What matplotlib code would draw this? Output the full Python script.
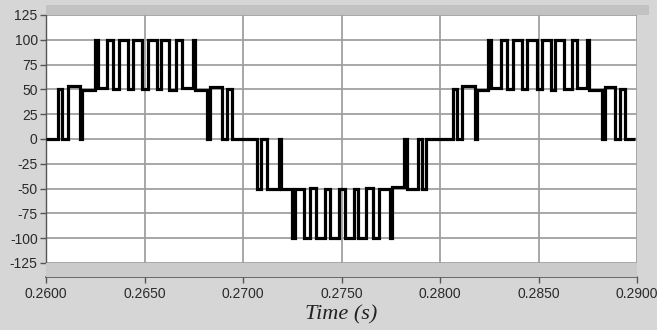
import matplotlib
matplotlib.use("Agg")
import matplotlib.pyplot as plt
from matplotlib.patches import Rectangle
import numpy as np

plt.rcParams['axes.unicode_minus'] = False

# switching instants (s) and the level that starts at each instant
t_pos1 = [0.26000, 0.26061, 0.26081, 0.26112, 0.26173, 0.26183,
          0.26249, 0.26264, 0.26310, 0.26340, 0.26371, 0.26416, 0.26442, 0.26487,
          0.26518, 0.26563, 0.26584, 0.26624, 0.26660, 0.26690, 0.26746, 0.26756,
          0.26817, 0.26832, 0.26893, 0.26919, 0.26944]
v_pos1 = [0, 50, 0, 53, 0, 49,
          100, 51, 100, 50, 100, 50, 100, 50,
          100, 50, 100, 49, 100, 51, 100, 49,
          0, 52, 0, 50, 0]

t_neg = [0.27071, 0.27091, 0.27122, 0.27183, 0.27193,
         0.27249, 0.27264, 0.27310, 0.27340, 0.27371, 0.27416, 0.27442, 0.27487,
         0.27518, 0.27563, 0.27584, 0.27624, 0.27660, 0.27690, 0.27746, 0.27756,
         0.27817, 0.27832, 0.27888, 0.27909, 0.27929]
v_neg = [-50, 0, -50, 0, -50,
         -100, -50, -100, -49, -100, -50, -100, -50,
         -100, -50, -100, -49, -100, -50, -100, -48,
         0, -50, 0, -50, 0]

t_pos2 = [0.28066, 0.28086, 0.28112, 0.28178, 0.28188,
          0.28244, 0.28259, 0.28310, 0.28340, 0.28371, 0.28416, 0.28442, 0.28492,
          0.28518, 0.28563, 0.28584, 0.28629, 0.28670, 0.28695, 0.28746, 0.28756,
          0.28822, 0.28838, 0.28888, 0.28914, 0.28939]
v_pos2 = [50, 0, 53, 0, 49,
          100, 51, 100, 50, 100, 50, 100, 50,
          100, 49, 100, 50, 100, 51, 100, 49,
          0, 52, 0, 50, 0]
t_end = 0.2899

x_ticks = [0.2600, 0.2650, 0.2700, 0.2750, 0.2800, 0.2850, 0.2900]
y_ticks = [-125, -100, -75, -50, -25, 0, 25, 50, 75, 100, 125]

edges = np.array(t_pos1 + t_neg + t_pos2 + [t_end])
levels = np.array(v_pos1 + v_neg + v_pos2)

W, H = 657, 330
fig = plt.figure(figsize=(W / 100, H / 100), dpi=100, facecolor='#d6d6d6')

x0, x1, ytop, ybot = 46, 637, 15, 263
ax = fig.add_axes([x0 / W, 1 - ybot / H, (x1 - x0) / W, (ybot - ytop) / H])
ax.set_facecolor('white')

# 3D-style wall bands above and below the plot
fig.patches.append(Rectangle((x0 / W, 1 - ytop / H), (x1 - x0 + 12) / W, 10 / H,
                             transform=fig.transFigure, facecolor='#c2c2c2',
                             edgecolor='none', zorder=0))
fig.patches.append(Rectangle((x0 / W, 1 - 277 / H), (x1 - x0) / W, 14 / H,
                             transform=fig.transFigure, facecolor='#cbcbcb',
                             edgecolor='none', zorder=0))

ax.stairs(levels, edges, baseline=None, color='black', linewidth=2.3, zorder=3)

ax.set_xlim(0.26, 0.29)
ax.set_ylim(-125, 125)
ax.set_xticks(x_ticks)
ax.set_xticklabels([f"{v:.4f}" for v in x_ticks])
ax.set_yticks(y_ticks)
ax.grid(True, color='#a0a0a0', linewidth=1.3)
ax.set_axisbelow(True)

for s in ['top', 'right']:
    ax.spines[s].set_visible(False)
ax.spines['left'].set_color('#555555')
ax.spines['left'].set_linewidth(1.0)
ax.spines['bottom'].set_position(('outward', 10))
ax.spines['bottom'].set_color('#555555')
ax.spines['bottom'].set_linewidth(1.2)

ax.tick_params(axis='both', colors='#555555', length=4, width=1,
               labelcolor='#2a2a2a', labelsize=10)
ax.tick_params(axis='x', pad=3)
ax.tick_params(axis='y', pad=2)
for lab in ax.get_xticklabels() + ax.get_yticklabels():
    lab.set_family('Liberation Sans')

ax.set_xlabel('Time (s)', family='Liberation Serif', style='italic',
              fontsize=16, color='#222222', labelpad=3)

fig.savefig('out.png', dpi=100, facecolor=fig.get_facecolor())
